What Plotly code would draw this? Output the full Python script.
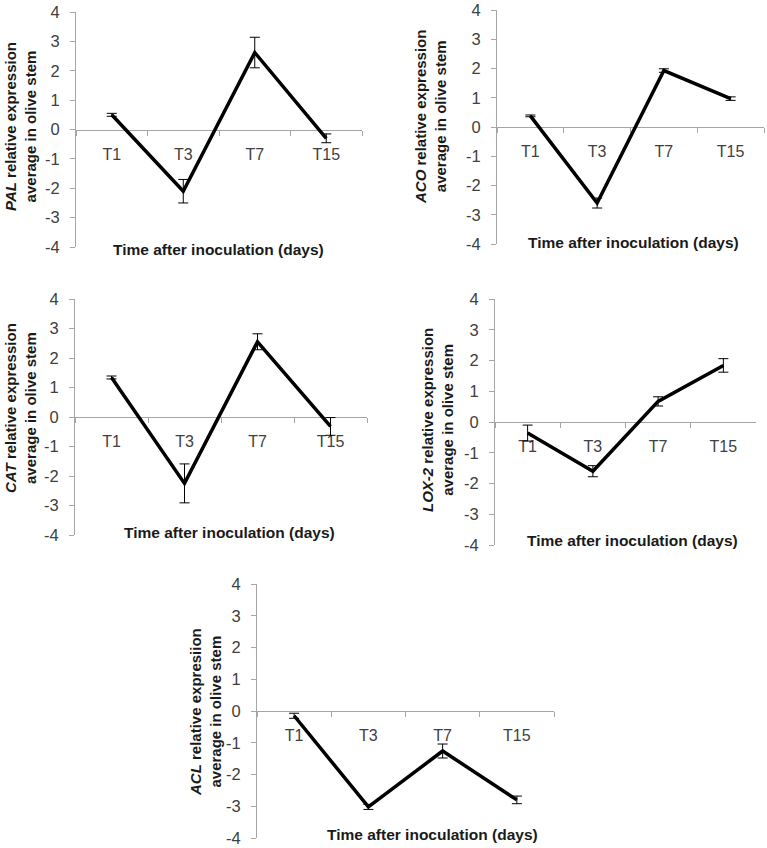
import plotly.graph_objects as go

W, H = 767, 848

categories = ["T1", "T3", "T7", "T15"]

pal = [0.5, -2.1, 2.62, -0.3]
pal_err = [0.05, 0.4, 0.52, 0.15]
aco = [0.38, -2.6, 1.93, 0.97]
aco_err = [0.03, 0.17, 0.06, 0.06]
cat = [1.34, -2.25, 2.55, -0.32]
cat_err = [0.05, 0.66, 0.27, 0.3]
lox = [-0.36, -1.6, 0.67, 1.84]
lox_err = [0.26, 0.18, 0.15, 0.22]
acl = [-0.15, -3.02, -1.26, -2.8]
acl_err = [0.08, 0.08, 0.22, 0.12]

y_ticks = [-4, -3, -2, -1, 0, 1, 2, 3, 4]
y_tick_labels = ["-4", "-3", "-2", "-1", "0", "1", "2", "3", "4"]
x_title = "Time after inoculation (days)"
y_titles = [
    "<i>PAL</i> relative expression<br>average in olive stem",
    "<i>ACO</i> relative expression<br>average in olive stem",
    "<i>CAT</i> relative expression<br>average in olive stem",
    "<i>LOX-2</i> relative expression<br>average in olive stem",
    "<i>ACL</i> relative expresiion<br>average in olive stem",
]
series = [(pal, pal_err), (aco, aco_err), (cat, cat_err), (lox, lox_err), (acl, acl_err)]

# panel boxes in pixels: x0, x1, ytop, ybottom
boxes = [
    (76, 362, 12, 247),
    (497, 764, 10, 244),
    (75, 367, 299, 535),
    (495, 756, 299, 545),
    (257, 554, 584, 838),
]
# x title centers (px) and y title centers (px)
xt_pos = [(218, 249), (633, 242), (229, 532), (632, 540), (432, 834)]
yt_pos = [(20, 127), (431, 117), (20, 408), (438, 420), (205, 712)]

FONT = "Liberation Sans, Arial, sans-serif"
TICKCOL = "#404040"
AXCOL = "#a6a6a6"

fig = go.Figure()
layout = dict(
    width=W, height=H, margin=dict(l=0, r=0, t=0, b=0, autoexpand=False),
    paper_bgcolor="white", plot_bgcolor="rgba(0,0,0,0)",
    showlegend=False, font=dict(family=FONT, color=TICKCOL),
)
annotations = []

for i, ((vals, errs), (x0, x1, yt, yb)) in enumerate(zip(series, boxes)):
    n = "" if i == 0 else str(i + 1)
    fig.add_trace(go.Scatter(
        x=categories, y=vals, mode="lines",
        line=dict(color="black", width=3.5),
        error_y=dict(type="data", array=errs, visible=True, color="black", thickness=1, width=5),
        xaxis="x" + n, yaxis="y" + n, cliponaxis=False, hoverinfo="skip",
    ))
    ydom = [1 - yb / H, 1 - yt / H]
    layout["xaxis" + n] = dict(
        domain=[x0 / W, x1 / W], type="category", range=[-0.5, 3.5],
        anchor="free", position=(ydom[0] + ydom[1]) / 2,
        showline=True, linecolor=AXCOL, linewidth=1,
        ticks="outside", tickson="boundaries", ticklen=5, tickcolor=AXCOL,
        showgrid=False, zeroline=False, layer="below traces", automargin=False,
        tickfont=dict(size=16, color=TICKCOL, family=FONT),
        ticklabelstandoff=10,
    )
    layout["yaxis" + n] = dict(
        domain=ydom, range=[-4, 4], anchor="x" + n,
        tickvals=y_ticks, ticktext=y_tick_labels,
        showline=True, linecolor=AXCOL, linewidth=1,
        ticks="outside", ticklen=5, tickcolor=AXCOL,
        showgrid=False, zeroline=False, automargin=False,
        tickfont=dict(size=16.5, color=TICKCOL, family=FONT),
        ticklabelstandoff=7,
    )
    xc, yc = xt_pos[i]
    annotations.append(dict(
        text="<b>" + x_title + "</b>", x=xc / W, y=1 - yc / H, xref="paper", yref="paper",
        showarrow=False, xanchor="center", yanchor="middle",
        font=dict(size=15.5, color="#1a1a1a", family=FONT),
    ))
    xc, yc = yt_pos[i]
    annotations.append(dict(
        text="<b>" + y_titles[i] + "</b>", x=xc / W, y=1 - yc / H, xref="paper", yref="paper",
        showarrow=False, xanchor="center", yanchor="middle", textangle=-90,
        font=dict(size=15, color="#1a1a1a", family=FONT),
    ))

layout["annotations"] = annotations
fig.update_layout(**layout)
fig.write_html("out.html", config={"displayModeBar": False},
               post_script="document.body.style.margin='0px';")
